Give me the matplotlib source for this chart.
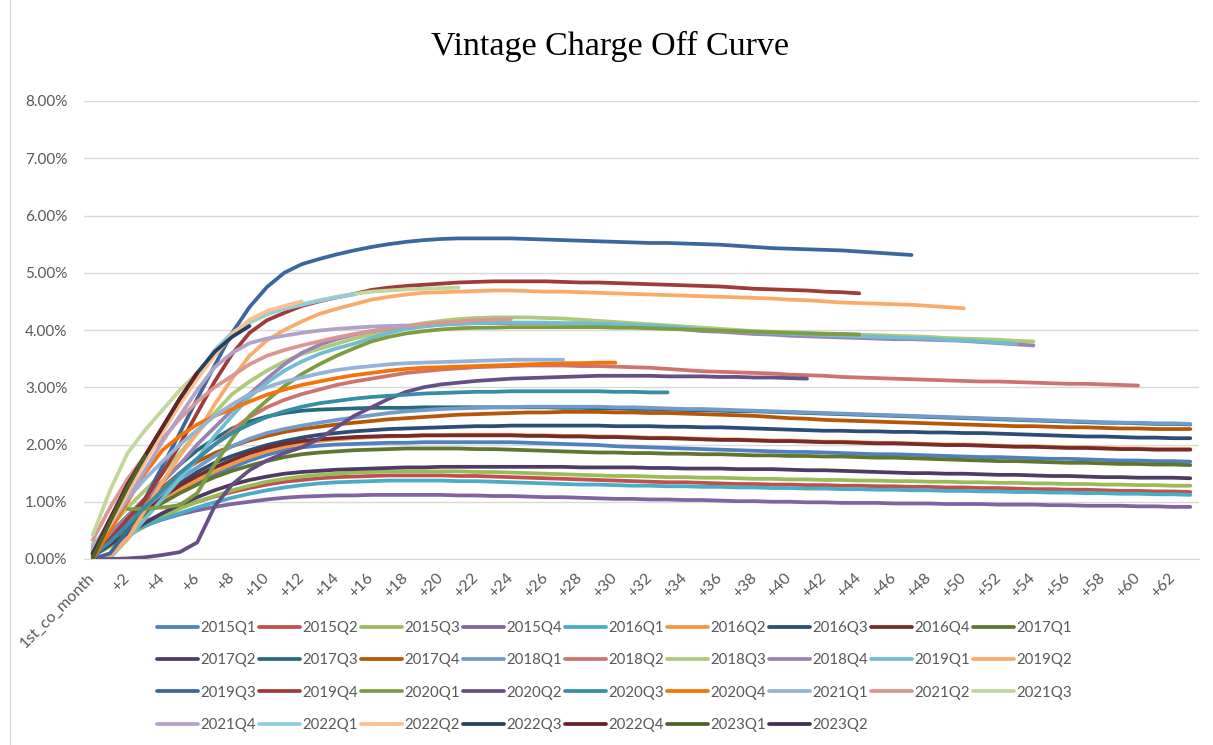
import colorsys
import numpy as np
import matplotlib
matplotlib.use("Agg")
import matplotlib.pyplot as plt
from matplotlib.colors import to_rgb
from matplotlib.lines import Line2D

plt.rcParams['font.family'] = ['Lato', 'DejaVu Sans']

# vintage names, in the order Excel plots them
vintages = ["2015Q1", "2015Q2", "2015Q3", "2015Q4", "2016Q1", "2016Q2", "2016Q3", "2016Q4", "2017Q1",
            "2017Q2", "2017Q3", "2017Q4", "2018Q1", "2018Q2", "2018Q3", "2018Q4", "2019Q1", "2019Q2",
            "2019Q3", "2019Q4", "2020Q1", "2020Q2", "2020Q3", "2020Q4", "2021Q1", "2021Q2", "2021Q3",
            "2021Q4", "2022Q1", "2022Q2", "2022Q3", "2022Q4", "2023Q1", "2023Q2"]

month_labels = ["1st_co_month"] + ["+%d" % i for i in range(1, 64)]

# cumulative charge off rate (%) by month since first charge off
v2015q1 = [0.10, 0.35, 0.58, 0.80, 1.00, 1.18, 1.33, 1.47, 1.60, 1.72,
           1.82, 1.90, 1.95, 1.98, 2.00, 2.01, 2.02, 2.03, 2.03, 2.04,
           2.04, 2.04, 2.04, 2.04, 2.04, 2.03, 2.02, 2.01, 2.00, 1.99,
           1.97, 1.96, 1.95, 1.94, 1.93, 1.92, 1.91, 1.90, 1.89, 1.88,
           1.87, 1.87, 1.86, 1.85, 1.84, 1.83, 1.83, 1.82, 1.81, 1.80,
           1.79, 1.78, 1.78, 1.77, 1.76, 1.75, 1.75, 1.74, 1.73, 1.72,
           1.72, 1.71, 1.71, 1.70]
v2015q2 = [0.15, 0.33, 0.50, 0.65, 0.78, 0.90, 1.00, 1.09, 1.17, 1.24,
           1.30, 1.35, 1.38, 1.41, 1.43, 1.44, 1.45, 1.46, 1.46, 1.46,
           1.46, 1.45, 1.45, 1.44, 1.43, 1.42, 1.41, 1.40, 1.39, 1.38,
           1.37, 1.36, 1.35, 1.34, 1.34, 1.33, 1.32, 1.31, 1.31, 1.30,
           1.30, 1.29, 1.29, 1.28, 1.28, 1.27, 1.27, 1.26, 1.26, 1.25,
           1.25, 1.24, 1.24, 1.23, 1.22, 1.22, 1.21, 1.21, 1.20, 1.19,
           1.19, 1.18, 1.18, 1.17]
v2015q3 = [0.05, 0.22, 0.40, 0.57, 0.73, 0.88, 1.00, 1.10, 1.20, 1.28,
           1.35, 1.40, 1.44, 1.47, 1.49, 1.51, 1.52, 1.53, 1.53, 1.53,
           1.53, 1.53, 1.52, 1.52, 1.51, 1.50, 1.49, 1.48, 1.47, 1.46,
           1.45, 1.45, 1.44, 1.43, 1.43, 1.42, 1.42, 1.41, 1.40, 1.40,
           1.39, 1.39, 1.38, 1.38, 1.37, 1.37, 1.36, 1.36, 1.35, 1.35,
           1.34, 1.34, 1.33, 1.33, 1.32, 1.32, 1.31, 1.31, 1.30, 1.30,
           1.29, 1.29, 1.28, 1.28]
v2015q4 = [0.20, 0.35, 0.48, 0.59, 0.69, 0.78, 0.85, 0.91, 0.96, 1.00,
           1.04, 1.07, 1.09, 1.10, 1.11, 1.11, 1.12, 1.12, 1.12, 1.12,
           1.12, 1.11, 1.11, 1.10, 1.10, 1.09, 1.08, 1.08, 1.07, 1.06,
           1.05, 1.05, 1.04, 1.04, 1.03, 1.03, 1.02, 1.01, 1.01, 1.00,
           1.00, 0.99, 0.99, 0.98, 0.98, 0.98, 0.97, 0.97, 0.97, 0.96,
           0.96, 0.96, 0.95, 0.95, 0.95, 0.94, 0.94, 0.93, 0.93, 0.93,
           0.92, 0.92, 0.91, 0.91]
v2016q1 = [0.10, 0.30, 0.45, 0.58, 0.70, 0.80, 0.90, 0.99, 1.07, 1.14,
           1.20, 1.25, 1.29, 1.32, 1.34, 1.35, 1.36, 1.37, 1.37, 1.37,
           1.37, 1.36, 1.36, 1.35, 1.34, 1.33, 1.32, 1.31, 1.30, 1.30,
           1.29, 1.28, 1.28, 1.27, 1.27, 1.26, 1.26, 1.25, 1.25, 1.24,
           1.24, 1.23, 1.23, 1.22, 1.22, 1.21, 1.21, 1.20, 1.20, 1.19,
           1.19, 1.18, 1.18, 1.17, 1.17, 1.16, 1.16, 1.15, 1.15, 1.14,
           1.14, 1.13, 1.13, 1.12]
v2016q2 = [0.05, 0.30, 0.55, 0.80, 1.00, 1.20, 1.38, 1.53, 1.66, 1.78,
           1.88, 1.96, 2.02, 2.06, 2.09, 2.11, 2.13, 2.14, 2.15, 2.16,
           2.16, 2.17, 2.17, 2.17, 2.17, 2.16, 2.16, 2.15, 2.15, 2.14,
           2.14, 2.13, 2.12, 2.12, 2.11, 2.10, 2.09, 2.09, 2.08, 2.07,
           2.07, 2.06, 2.05, 2.05, 2.04, 2.03, 2.03, 2.02, 2.01, 2.00,
           2.00, 1.99, 1.98, 1.97, 1.97, 1.96, 1.95, 1.95, 1.94, 1.93,
           1.93, 1.92, 1.92, 1.92]
v2016q3 = [0.10, 0.35, 0.60, 0.85, 1.10, 1.32, 1.52, 1.68, 1.80, 1.90,
           1.99, 2.06, 2.12, 2.17, 2.20, 2.23, 2.25, 2.27, 2.28, 2.29,
           2.30, 2.31, 2.32, 2.32, 2.33, 2.33, 2.33, 2.33, 2.33, 2.33,
           2.32, 2.32, 2.32, 2.31, 2.31, 2.30, 2.30, 2.29, 2.28, 2.27,
           2.26, 2.25, 2.24, 2.24, 2.23, 2.23, 2.22, 2.22, 2.21, 2.21,
           2.20, 2.20, 2.19, 2.18, 2.17, 2.16, 2.15, 2.14, 2.14, 2.13,
           2.12, 2.12, 2.11, 2.11]
v2016q4 = [0.10, 0.35, 0.60, 0.85, 1.08, 1.28, 1.45, 1.60, 1.73, 1.85,
           1.94, 2.01, 2.06, 2.09, 2.11, 2.13, 2.14, 2.15, 2.15, 2.16,
           2.16, 2.16, 2.16, 2.16, 2.16, 2.15, 2.15, 2.14, 2.14, 2.13,
           2.13, 2.12, 2.11, 2.11, 2.10, 2.09, 2.08, 2.08, 2.07, 2.06,
           2.06, 2.05, 2.04, 2.04, 2.03, 2.02, 2.02, 2.01, 2.00, 1.99,
           1.99, 1.98, 1.97, 1.96, 1.96, 1.95, 1.94, 1.94, 1.93, 1.92,
           1.92, 1.91, 1.91, 1.91]
v2017q1 = [0.08, 0.30, 0.55, 0.78, 0.98, 1.15, 1.30, 1.43, 1.54, 1.63,
           1.71, 1.78, 1.83, 1.86, 1.88, 1.90, 1.91, 1.92, 1.93, 1.93,
           1.93, 1.93, 1.92, 1.92, 1.91, 1.90, 1.89, 1.88, 1.87, 1.86,
           1.86, 1.85, 1.85, 1.84, 1.84, 1.83, 1.83, 1.82, 1.81, 1.81,
           1.80, 1.80, 1.79, 1.79, 1.78, 1.77, 1.77, 1.76, 1.75, 1.74,
           1.73, 1.72, 1.71, 1.71, 1.70, 1.69, 1.68, 1.68, 1.67, 1.66,
           1.66, 1.65, 1.65, 1.64]
v2017q2 = [0.05, 0.25, 0.45, 0.63, 0.80, 0.95, 1.08, 1.20, 1.30, 1.38,
           1.44, 1.49, 1.52, 1.54, 1.56, 1.57, 1.58, 1.59, 1.60, 1.60,
           1.61, 1.61, 1.61, 1.61, 1.61, 1.61, 1.61, 1.61, 1.60, 1.60,
           1.60, 1.60, 1.59, 1.59, 1.58, 1.58, 1.58, 1.57, 1.57, 1.57,
           1.56, 1.55, 1.55, 1.54, 1.53, 1.52, 1.51, 1.50, 1.50, 1.49,
           1.49, 1.48, 1.47, 1.47, 1.46, 1.45, 1.45, 1.44, 1.43, 1.43,
           1.42, 1.42, 1.42, 1.41]
v2017q3 = [0.15, 0.45, 0.75, 1.05, 1.35, 1.65, 1.90, 2.10, 2.28, 2.40,
           2.49, 2.55, 2.59, 2.61, 2.62, 2.63, 2.64, 2.64, 2.64, 2.65,
           2.65, 2.65, 2.65, 2.65, 2.65, 2.65, 2.65, 2.64, 2.64, 2.63,
           2.63, 2.62, 2.62, 2.61, 2.60, 2.60, 2.59, 2.58, 2.58, 2.57,
           2.56, 2.55, 2.54, 2.53, 2.52, 2.51, 2.50, 2.49, 2.48, 2.47,
           2.46, 2.45, 2.44, 2.43, 2.42, 2.41, 2.40, 2.39, 2.38, 2.38,
           2.37, 2.36, 2.36, 2.35]
v2017q4 = [0.10, 0.40, 0.70, 1.00, 1.25, 1.50, 1.70, 1.85, 1.97, 2.07,
           2.15, 2.22, 2.27, 2.31, 2.35, 2.38, 2.41, 2.44, 2.46, 2.48,
           2.50, 2.52, 2.53, 2.54, 2.55, 2.56, 2.56, 2.57, 2.57, 2.57,
           2.56, 2.56, 2.55, 2.55, 2.54, 2.53, 2.52, 2.51, 2.50, 2.48,
           2.46, 2.45, 2.43, 2.42, 2.41, 2.40, 2.39, 2.38, 2.37, 2.36,
           2.35, 2.34, 2.33, 2.32, 2.32, 2.31, 2.30, 2.30, 2.29, 2.28,
           2.28, 2.27, 2.27, 2.27]
v2018q1 = [0.15, 0.40, 0.65, 0.90, 1.15, 1.40, 1.60, 1.80, 1.97, 2.10,
           2.20, 2.27, 2.33, 2.38, 2.43, 2.47, 2.51, 2.55, 2.58, 2.60,
           2.62, 2.63, 2.64, 2.65, 2.65, 2.66, 2.66, 2.66, 2.66, 2.66,
           2.65, 2.65, 2.64, 2.63, 2.62, 2.62, 2.61, 2.60, 2.59, 2.58,
           2.57, 2.56, 2.55, 2.54, 2.53, 2.52, 2.51, 2.50, 2.49, 2.48,
           2.47, 2.46, 2.45, 2.44, 2.43, 2.42, 2.41, 2.40, 2.39, 2.38,
           2.38, 2.37, 2.37, 2.36]
v2018q2 = [0.20, 0.45, 0.70, 0.95, 1.20, 1.50, 1.75, 2.00, 2.25, 2.48,
           2.65, 2.78, 2.88, 2.96, 3.04, 3.10, 3.15, 3.20, 3.25, 3.28,
           3.31, 3.33, 3.35, 3.36, 3.37, 3.38, 3.38, 3.38, 3.37, 3.37,
           3.36, 3.35, 3.34, 3.32, 3.30, 3.28, 3.27, 3.26, 3.25, 3.24,
           3.22, 3.21, 3.20, 3.18, 3.17, 3.16, 3.15, 3.14, 3.13, 3.12,
           3.11, 3.10, 3.10, 3.09, 3.08, 3.07, 3.06, 3.06, 3.05, 3.04,
           3.03]
v2018q3 = [0.25, 0.55, 0.90, 1.20, 1.50, 1.85, 2.20, 2.55, 2.88, 3.10,
           3.29, 3.45, 3.58, 3.67, 3.76, 3.85, 3.92, 4.00, 4.07, 4.12,
           4.16, 4.19, 4.21, 4.22, 4.22, 4.22, 4.21, 4.20, 4.18, 4.16,
           4.14, 4.12, 4.10, 4.08, 4.06, 4.04, 4.02, 4.00, 3.98, 3.97,
           3.96, 3.95, 3.94, 3.93, 3.92, 3.91, 3.90, 3.89, 3.88, 3.86,
           3.85, 3.84, 3.83, 3.81, 3.80]
v2018q4 = [0.20, 0.45, 0.75, 1.05, 1.35, 1.65, 2.00, 2.30, 2.60, 2.88,
           3.15, 3.40, 3.60, 3.74, 3.84, 3.92, 3.98, 4.02, 4.06, 4.08,
           4.10, 4.11, 4.12, 4.12, 4.12, 4.12, 4.12, 4.11, 4.11, 4.10,
           4.09, 4.08, 4.06, 4.04, 4.01, 3.98, 3.97, 3.95, 3.93, 3.92,
           3.90, 3.89, 3.88, 3.87, 3.86, 3.85, 3.84, 3.84, 3.83, 3.82,
           3.81, 3.79, 3.77, 3.75, 3.73]
v2019q1 = [0.00, 0.02, 0.35, 0.70, 1.05, 1.40, 1.75, 2.15, 2.50, 2.83,
           3.08, 3.29, 3.45, 3.58, 3.68, 3.76, 3.86, 3.95, 4.02, 4.06,
           4.09, 4.11, 4.12, 4.13, 4.13, 4.13, 4.13, 4.12, 4.12, 4.11,
           4.10, 4.09, 4.08, 4.06, 4.04, 4.01, 3.99, 3.98, 3.96, 3.95,
           3.93, 3.92, 3.91, 3.90, 3.89, 3.88, 3.87, 3.86, 3.85, 3.83,
           3.82, 3.80, 3.78, 3.76]
v2019q2 = [0.00, 0.05, 0.35, 0.85, 1.35, 1.80, 2.20, 2.70, 3.15, 3.55,
           3.82, 4.00, 4.15, 4.28, 4.37, 4.45, 4.53, 4.58, 4.62, 4.65,
           4.66, 4.67, 4.68, 4.69, 4.69, 4.68, 4.67, 4.67, 4.66, 4.65,
           4.64, 4.63, 4.62, 4.61, 4.60, 4.59, 4.58, 4.57, 4.56, 4.55,
           4.53, 4.52, 4.50, 4.48, 4.47, 4.46, 4.45, 4.44, 4.42, 4.40,
           4.38]
v2019q3 = [0.00, 0.10, 0.50, 1.05, 1.62, 2.20, 2.80, 3.38, 3.95, 4.40,
           4.75, 5.00, 5.15, 5.24, 5.32, 5.39, 5.45, 5.50, 5.54, 5.57,
           5.59, 5.60, 5.60, 5.60, 5.60, 5.59, 5.58, 5.57, 5.56, 5.55,
           5.54, 5.53, 5.52, 5.52, 5.51, 5.50, 5.49, 5.47, 5.45, 5.43,
           5.42, 5.41, 5.40, 5.39, 5.37, 5.35, 5.33, 5.31]
v2019q4 = [0.05, 0.35, 0.70, 1.05, 1.50, 2.00, 2.55, 3.10, 3.58, 3.95,
           4.17, 4.30, 4.42, 4.50, 4.57, 4.63, 4.70, 4.74, 4.77, 4.79,
           4.81, 4.83, 4.84, 4.85, 4.85, 4.85, 4.85, 4.84, 4.83, 4.83,
           4.82, 4.81, 4.80, 4.79, 4.78, 4.77, 4.76, 4.74, 4.72, 4.71,
           4.70, 4.69, 4.67, 4.66, 4.64]
v2020q1 = [np.nan, np.nan, 0.87, 0.88, 0.90, 0.94, 1.15, 1.65, 2.10, 2.50,
           2.77, 3.02, 3.23, 3.40, 3.55, 3.68, 3.80, 3.88, 3.94, 3.98,
           4.01, 4.03, 4.04, 4.04, 4.05, 4.05, 4.05, 4.05, 4.05, 4.05,
           4.04, 4.04, 4.03, 4.02, 4.01, 4.00, 3.99, 3.98, 3.97, 3.96,
           3.95, 3.94, 3.93, 3.93, 3.92]
v2020q2 = [0.00, 0.00, 0.01, 0.03, 0.07, 0.12, 0.29, 0.92, 1.30, 1.55,
           1.72, 1.85, 1.95, 2.10, 2.30, 2.50, 2.65, 2.80, 2.92, 3.00,
           3.05, 3.08, 3.11, 3.13, 3.15, 3.16, 3.17, 3.18, 3.19, 3.20,
           3.20, 3.20, 3.20, 3.19, 3.19, 3.19, 3.18, 3.18, 3.17, 3.17,
           3.16, 3.15]
v2020q3 = [0.05, 0.30, 0.60, 0.90, 1.20, 1.50, 1.75, 2.00, 2.20, 2.35,
           2.48, 2.58, 2.66, 2.72, 2.76, 2.80, 2.83, 2.85, 2.87, 2.89,
           2.90, 2.91, 2.92, 2.92, 2.93, 2.93, 2.93, 2.93, 2.93, 2.93,
           2.92, 2.92, 2.91, 2.91]
v2020q4 = [0.00, 0.50, 1.00, 1.50, 1.90, 2.15, 2.35, 2.50, 2.62, 2.75,
           2.87, 2.96, 3.04, 3.10, 3.16, 3.21, 3.25, 3.29, 3.32, 3.34,
           3.35, 3.36, 3.37, 3.38, 3.39, 3.40, 3.41, 3.42, 3.42, 3.43,
           3.43]
v2021q1 = [0.20, 0.65, 1.05, 1.40, 1.70, 2.00, 2.25, 2.50, 2.70, 2.88,
           3.00, 3.10, 3.17, 3.24, 3.30, 3.34, 3.37, 3.40, 3.42, 3.43,
           3.44, 3.45, 3.46, 3.47, 3.48, 3.48, 3.48, 3.48]
v2021q2 = [0.33, 0.90, 1.40, 1.80, 2.10, 2.45, 2.75, 3.00, 3.20, 3.40,
           3.55, 3.65, 3.73, 3.80, 3.87, 3.93, 3.98, 4.03, 4.07, 4.10,
           4.13, 4.15, 4.17, 4.18, 4.19]
v2021q3 = [0.42, 1.20, 1.85, 2.25, 2.60, 2.95, 3.25, 3.60, 3.90, 4.12,
           4.27, 4.37, 4.45, 4.52, 4.58, 4.63, 4.67, 4.69, 4.71, 4.72,
           4.73, 4.74]
v2021q4 = [0.20, 0.60, 1.05, 1.55, 2.05, 2.50, 2.95, 3.35, 3.60, 3.77,
           3.85, 3.90, 3.95, 3.99, 4.02, 4.04, 4.06, 4.07, 4.08]
v2022q1 = [0.15, 0.70, 1.25, 1.75, 2.25, 2.75, 3.20, 3.65, 3.95, 4.15,
           4.28, 4.37, 4.44, 4.51, 4.57, 4.62]
v2022q2 = [0.10, 0.60, 1.15, 1.70, 2.20, 2.70, 3.15, 3.55, 3.92, 4.18,
           4.33, 4.42, 4.50]
v2022q3 = [0.10, 0.70, 1.30, 1.80, 2.30, 2.80, 3.25, 3.62, 3.88, 4.07]
v2022q4 = [0.08, 0.70, 1.30, 1.80, 2.30, 2.80, 3.25]
v2023q1 = [0.02, 0.65, 1.25, 1.80]
v2023q2 = [0.03]

series = [v2015q1, v2015q2, v2015q3, v2015q4, v2016q1, v2016q2, v2016q3, v2016q4, v2017q1,
          v2017q2, v2017q3, v2017q4, v2018q1, v2018q2, v2018q3, v2018q4, v2019q1, v2019q2,
          v2019q3, v2019q4, v2020q1, v2020q2, v2020q3, v2020q4, v2021q1, v2021q2, v2021q3,
          v2021q4, v2022q1, v2022q2, v2022q3, v2022q4, v2023q1, v2023q2]

# Excel office theme accents, then its darker / lighter variations
accents = ["#4F81BD", "#C0504D", "#9BBB59", "#8064A2", "#4BACC6", "#F79646"]
shades = [(1.0, 0.0), (0.6, 0.0), (0.8, 0.2), (0.8, 0.0), (0.6, 0.4), (0.5, 0.0)]


def excel_color(i):
    h, l, s = colorsys.rgb_to_hls(*to_rgb(accents[i % 6]))
    mod, off = shades[i // 6]
    return colorsys.hls_to_rgb(h, l * mod + off, s)


W, H = 1213, 745
fig = plt.figure(figsize=(W / 100, H / 100), dpi=100)
ax = fig.add_axes([84 / W, 1 - 559 / H, (1199 - 84) / W, (559 - 101) / H])

for i, (name, vals) in enumerate(zip(vintages, series)):
    ax.plot(range(len(vals)), vals, color=excel_color(i), lw=2.7, label=name,
            solid_capstyle='round', solid_joinstyle='round')

ax.set_xlim(-0.5, 63.5)
ax.set_ylim(0, 8)
ax.set_yticks(range(9))
ax.set_yticklabels(["%.2f%%" % v for v in range(9)])
ax.grid(axis='y', color='#D9D9D9', lw=1)
ax.set_axisbelow(True)
for s in ['top', 'right', 'left']:
    ax.spines[s].set_visible(False)
ax.spines['bottom'].set_color('#D9D9D9')
ax.tick_params(length=0, colors='#595959', labelsize=11)
ax.tick_params(axis='y', pad=12)
ax.tick_params(axis='x', pad=12, labelsize=11.5)
ax.set_xticks(range(0, 64, 2))
ax.set_xticklabels(month_labels[::2], rotation=45, ha='right', va='center',
                   rotation_mode='anchor')

fig.text(610 / W, 1 - 46 / H, "Vintage Charge Off Curve", family='Liberation Serif',
         fontsize=24.5, ha='center', va='center', color='black')

# legend filled row by row like Excel (matplotlib fills columns first)
handles, labels = ax.get_legend_handles_labels()
order = [r * 9 + c for c in range(9) for r in range(4) if r * 9 + c < len(handles)]
leg = fig.legend([handles[k] for k in order], [labels[k] for k in order], ncol=9,
                 loc='upper left', bbox_to_anchor=(157 / W, 1 - 621 / H), frameon=False,
                 fontsize=10.8, handlelength=2.73, handletextpad=0.15, columnspacing=0.2,
                 labelspacing=1.22, borderpad=0, borderaxespad=0)
for t in leg.get_texts():
    t.set_color('#595959')

# chart frame edge on the left
fig.add_artist(Line2D([10 / W, 10 / W], [0, 1], color='#D9D9D9', lw=1))

fig.savefig("out.png", dpi=100)
